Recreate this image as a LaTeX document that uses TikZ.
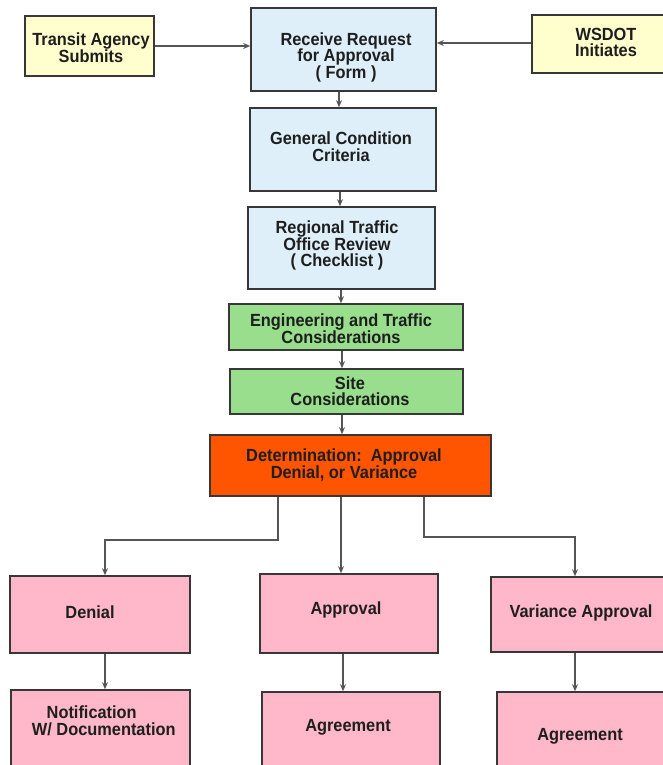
\documentclass[tikz,border=0pt]{standalone}
\usepackage{fontspec}
\setmainfont{Liberation Sans}[FakeStretch=0.93]
\usetikzlibrary{arrows.meta}
\definecolor{yfill}{RGB}{255,255,206}
\definecolor{bfill}{RGB}{222,239,250}
\definecolor{gfill}{RGB}{152,222,140}
\definecolor{ofill}{RGB}{255,84,0}
\definecolor{pfill}{RGB}{255,183,201}
\definecolor{edge}{RGB}{55,55,55}
\definecolor{wire}{RGB}{85,85,85}
\definecolor{ink}{RGB}{30,30,30}
\newcommand{\mybox}[6]{%
  \node[boxshape, fill=#6, minimum width={#4-#2}, minimum height={#5-#3}] (#1) at ({(#2+#4)/2},{(#3+#5)/2}) {};}
\begin{document}
\begin{tikzpicture}[x=1pt,y=-1pt,
  boxshape/.style={draw=edge, line width=1.6pt, inner sep=0pt, rectangle},
  lbl/.style={inner sep=0pt, align=center, text=ink, font=\bfseries\fontsize{17.6}{16.5}\selectfont},
  arr/.style={draw=wire, line width=1.5pt, -{Stealth[length=7pt,width=6pt]}}]
\path[use as bounding box, fill=white] (0,0) rectangle (663,765);
\clip (0,0) rectangle (663,765);
% boxes
\mybox{transit}{25}{16}{154}{76}{yfill}
\mybox{receive}{251}{8}{436}{91}{bfill}
\mybox{wsdot}{532}{15}{680}{73}{yfill}
\mybox{general}{250}{108}{436}{191}{bfill}
\mybox{regional}{248}{207}{435}{289}{bfill}
\mybox{engineering}{229}{304}{463}{350}{gfill}
\mybox{site}{230}{369}{463}{414}{gfill}
\mybox{determination}{210}{435}{491}{496}{ofill}
\mybox{denial}{10}{576}{190}{653}{pfill}
\mybox{approval}{260}{574}{438}{653}{pfill}
\mybox{variance}{491}{577}{680}{652}{pfill}
\mybox{notification}{11}{690}{190}{800}{pfill}
\mybox{agreemid}{262}{692}{440}{800}{pfill}
\mybox{agreeright}{497}{692}{680}{800}{pfill}
% labels
\node[lbl] (t-transit) at (91,47.5) {Transit Agency\\Submits};
\node[lbl] (t-receive) at (346,57) {Receive Request\\for Approval\\( Form )};
\node[lbl] (t-wsdot) at (606,42.5) {WSDOT\\Initiates};
\node[lbl] (t-general) at (341,146.5) {General Condition\\Criteria};
\node[lbl] (t-regional) at (337,245.5) {Regional Traffic\\Office Review\\( Checklist )};
\node[lbl] (t-engineering) at (341,328.5) {Engineering and Traffic\\Considerations};
\node[lbl] (t-site) at (350,391) {Site\\Considerations};
\node[lbl] (t-determination) at (344,465) {Determination:\ \ Approval\\Denial, or Variance};
\node[lbl] (t-denial) at (90,612) {Denial};
\node[lbl] (t-approval) at (346,610) {Approval};
\node[lbl] (t-variance) at (581,613) {Variance Approval};
\node[lbl, align=left, anchor=west] (t-notification) at (31.7,721) {\hspace*{14.8pt}Notification\\W/ Documentation};
\node[lbl] (t-agreemid) at (348,727) {Agreement};
\node[lbl] (t-agreeright) at (580,736) {Agreement};
% connectors
\draw[arr] (transit.east) -- (transit.east -| receive.west);
\draw[arr] (wsdot.west |- 0,43) -- (receive.east |- 0,43);
\draw[arr] (receive.south -| 339,0) -- (general.north -| 339,0);
\draw[arr] (general.south -| 340,0) -- (regional.north -| 340,0);
\draw[arr] (regional.south -| 341,0) -- (engineering.north -| 341,0);
\draw[arr] (engineering.south -| 342,0) -- (site.north -| 342,0);
\draw[arr] (site.south -| 342,0) -- (determination.north -| 342,0);
\draw[arr] (determination.south -| 278,0) -- (278,540) -- (105,540) -- (denial.north -| 105,0);
\draw[arr] (determination.south -| 341,0) -- (approval.north -| 341,0);
\draw[arr] (determination.south -| 424,0) -- (424,537) -- (575,537) -- (variance.north -| 575,0);
\draw[arr] (denial.south -| 105,0) -- (notification.north -| 105,0);
\draw[arr] (approval.south -| 343,0) -- (agreemid.north -| 343,0);
\draw[arr] (variance.south -| 575,0) -- (agreeright.north -| 575,0);
\end{tikzpicture}
\end{document}
